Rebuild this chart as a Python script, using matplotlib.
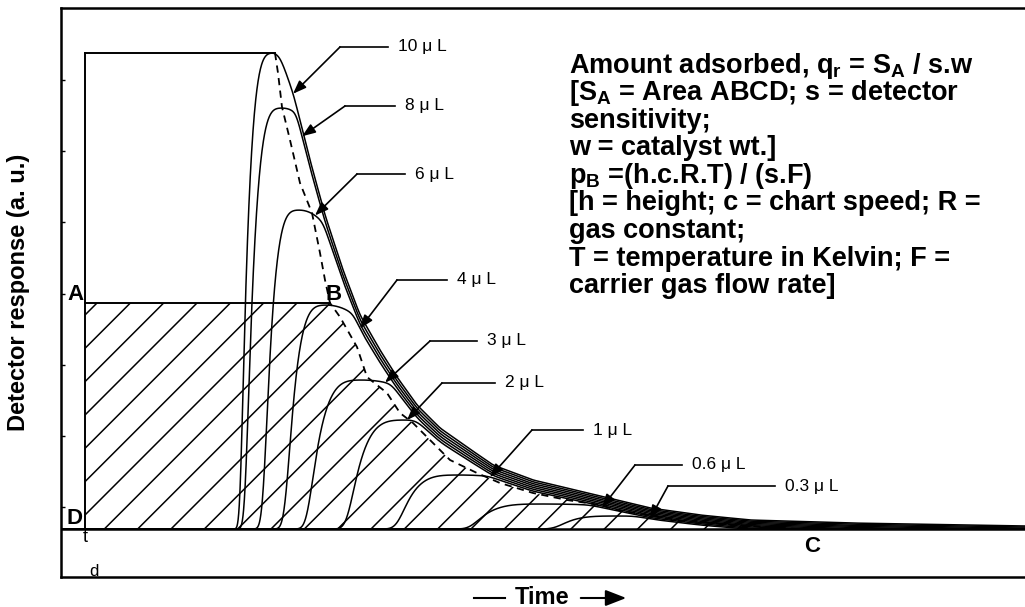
import numpy as np
import matplotlib
matplotlib.use("Agg")
import matplotlib.pyplot as plt
from matplotlib.lines import Line2D
from matplotlib.patches import FancyArrowPatch

plt.rcParams['font.family'] = ['Liberation Sans', 'DejaVu Sans']
plt.rcParams['hatch.linewidth'] = 1.1
plt.rcParams['mathtext.default'] = 'regular'

# ---- data -------------------------------------------------------------
# injection volumes (µL) and the shape of each elution peak
volumes = ['10', '8', '6', '4', '3', '2', '1', '0.6', '0.3']
onset_time = [1.55, 1.60, 1.78, 2.00, 2.22, 2.62, 3.12, 3.85, 4.70]
peak_time = [1.90, 1.98, 2.15, 2.42, 2.78, 3.22, 3.75, 4.60, 5.35]
peak_height = [4.76, 4.21, 3.19, 2.24, 1.49, 1.09, 0.54, 0.25, 0.13]

# common diffuse rear boundary shared by all peaks
envelope_time = [1.90, 1.95, 2.00, 2.08, 2.15, 2.25, 2.40, 2.58, 2.75, 2.95,
                 3.12, 3.32, 3.55, 3.82, 4.08, 4.48, 4.65, 5.15, 5.65, 6.15,
                 6.65, 7.65, 9.40]
envelope_resp = [4.76, 4.71, 4.59, 4.36, 4.09, 3.69, 3.14, 2.59, 2.14, 1.79,
                 1.52, 1.24, 1.01, 0.82, 0.64, 0.49, 0.45, 0.33, 0.21, 0.14,
                 0.09, 0.06, 0.03]

# locus of peak maxima (dashed boundary from the top through B to C)
locus_time = [1.90, 1.93, 1.97, 2.05, 2.15, 2.27, 2.35, 2.40, 2.45, 2.55,
              2.72, 2.82, 3.02, 3.15, 3.28, 3.48, 3.65, 3.92, 4.15, 4.48,
              4.82, 5.15, 5.32, 5.98, 6.82, 7.15]
locus_resp = [4.76, 4.56, 4.22, 3.89, 3.46, 3.16, 2.76, 2.49, 2.26, 2.12,
              1.82, 1.52, 1.36, 1.16, 1.06, 0.86, 0.69, 0.56, 0.46, 0.36,
              0.29, 0.24, 0.19, 0.08, 0.02, 0.00]

plateau_resp = 2.26      # level A-B
top_resp = 4.76          # level of the largest peak
tick_levels = [0.22, 0.93, 1.64, 2.35, 3.07, 3.78, 4.49]

# time at which each label's pointer meets its peak
pointer_time = [2.08, 2.17, 2.30, 2.75, 3.00, 3.22, 4.05, 5.17, 5.65]

# ---- label layout -----------------------------------------------------
elbow_t = [2.55, 2.60, 2.72, 3.12, 3.45, 3.57, 4.47, 5.50, 5.83]
elbow_r = [4.82, 4.23, 3.55, 2.49, 1.88, 1.46, 0.99, 0.64, 0.43]
text_t = [3.13, 3.20, 3.30, 3.72, 4.02, 4.20, 5.08, 6.07, 7.00]

W, H = 1025, 607
fig = plt.figure(figsize=(W / 100, H / 100), dpi=100)
ax_left, ax_right, ax_top, ax_bot = 61, 1025, 8, 577
ax = fig.add_axes([ax_left / W, 1 - ax_bot / H,
                   (ax_right - ax_left) / W, (ax_bot - ax_top) / H])
ax.set_xlim(-0.24, 9.40)
ax.set_ylim(-0.48, 5.21)

t = np.linspace(-0.3, 9.5, 5000)
dt = t[1] - t[0]
env_full = np.interp(t, envelope_time, envelope_resp, left=1e3,
                     right=envelope_resp[-1])


def elution_profile(i):
    t0, tp, h = onset_time[i], peak_time[i], peak_height[i]
    u = np.clip((t - t0) / (tp - t0), 0.0, 1.0)
    rise = h * (1.0 - (1.0 - u) ** 4)
    rise[t < t0] = 0.0
    # slowly falling top after the maximum until it meets the rear boundary
    v = np.clip((t - tp) / (tp - t0), 0.0, None)
    top = h * np.maximum(1.0 - 0.1 * v ** 2, 0.0)
    tail = np.maximum(env_full * (1 - 0.018 * i) - 0.010 * i, 0.0)
    merged = np.cumsum((t > tp) & (tail <= top)) > 0
    after = np.where(merged, tail, np.minimum(top, tail))
    y = np.where(t <= tp, rise, after)
    # round off the corners
    sig = 0.02 + 0.006 * i
    k = np.arange(-int(4 * sig / dt), int(4 * sig / dt) + 1) * dt
    ker = np.exp(-0.5 * (k / sig) ** 2)
    ker /= ker.sum()
    ypad = np.pad(y, len(k) // 2, mode='edge')
    return np.convolve(ypad, ker, mode='valid')


profiles = [elution_profile(i) for i in range(len(volumes))]

# hatched area ABCD
loc = np.interp(t, locus_time, locus_resp, left=1e3, right=0.0)
upper = np.minimum(plateau_resp, loc)
mask = (t >= 0) & (t <= locus_time[-1])
ax.fill_between(t[mask], 0, upper[mask], facecolor='none', edgecolor='k',
                hatch='/', linewidth=0)

# frame of the injection pulse and line A-B
ax.plot([0, 0], [0, top_resp], color='k', lw=1.4)
ax.plot([0, peak_time[0]], [top_resp, top_resp], color='k', lw=1.4)
ax.plot([0, locus_time[locus_resp.index(plateau_resp)]],
        [plateau_resp, plateau_resp], color='k', lw=1.4)

# dashed locus of maxima
ax.plot(locus_time, locus_resp, color='k', lw=1.3, ls=(0, (4, 3)))

# elution peaks
for y in profiles:
    ax.plot(t, y, color='k', lw=1.1)

# baseline
ax.axhline(0, color='k', lw=1.8)

# volume labels with pointers
for i, v in enumerate(volumes):
    tip = (pointer_time[i], np.interp(pointer_time[i], t, profiles[i]))
    ax.annotate('', xy=tip, xytext=(elbow_t[i], elbow_r[i]),
                arrowprops=dict(arrowstyle='-|>,head_length=0.8,head_width=0.3',
                                color='k', lw=1.2, shrinkA=0, shrinkB=0))
    ax.plot([elbow_t[i], text_t[i] - 0.10], [elbow_r[i], elbow_r[i]],
            color='k', lw=1.2)
    ax.text(text_t[i], elbow_r[i], f'{v} \u03bc L', fontsize=12.5,
            va='center', ha='left')

# corner letters
for s, (x, y) in {'A': (-0.10, 2.34), 'D': (-0.10, 0.11),
                  'B': (2.49, 2.34), 'C': (7.27, -0.17)}.items():
    ax.text(x, y, s, fontsize=16, fontweight='bold', ha='center', va='center')
ax.text(0.0, -0.09, 't', fontsize=13, ha='center', va='center')
ax.text(0.09, -0.42, 'd', fontsize=12, ha='center', va='center')

# axes styling
for side in ('left', 'top', 'bottom'):
    ax.spines[side].set_linewidth(1.8)
ax.spines['right'].set_visible(False)
ax.set_xticks([])
ax.set_yticks(tick_levels)
ax.tick_params(axis='y', direction='in', length=3, width=1, labelleft=False)

# formula block
lines = [
    r'Amount adsorbed, q$_r$ = S$_A$ / s.w',
    r'[S$_A$ = Area ABCD; s = detector',
    'sensitivity;',
    'w = catalyst wt.]',
    r'p$_B$ =(h.c.R.T) / (s.F)',
    '[h = height; c = chart speed; R =',
    'gas constant;',
    'T = temperature in Kelvin; F =',
    'carrier gas flow rate]',
]
for j, s in enumerate(lines):
    fig.text(569 / W, 1 - (73 + 27.5 * j) / H, s, fontsize=19.5,
             fontweight='bold', ha='left', va='baseline')

# axis titles
fig.text(19 / W, 1 - 292 / H, 'Detector response (a. u.)', rotation=90,
         fontsize=17, fontweight='bold', ha='center', va='center')
fig.text(542 / W, 1 - 597 / H, 'Time', fontsize=17, fontweight='bold',
         ha='center', va='center')
fig.add_artist(Line2D([474 / W, 505 / W], [1 - 598 / H] * 2, color='k', lw=1.5))
fig.add_artist(FancyArrowPatch(
    (578 / W, 1 - 598 / H), (629 / W, 1 - 598 / H), transform=fig.transFigure,
    arrowstyle='-|>,head_length=0.9,head_width=0.35', mutation_scale=14,
    color='k', lw=1.5))

fig.savefig('out.png', dpi=100)
